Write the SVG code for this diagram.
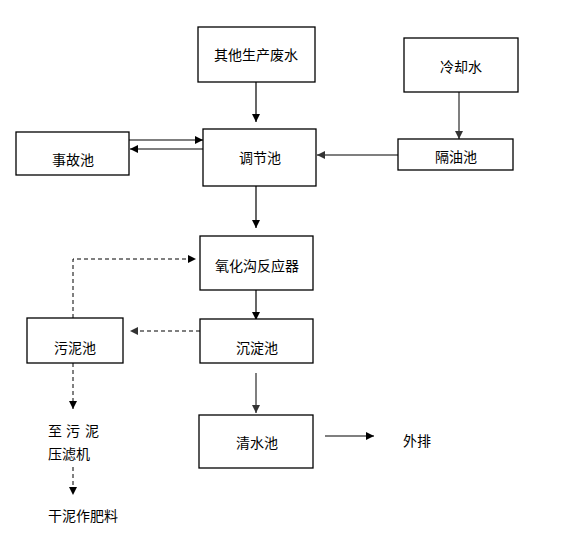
<svg xmlns="http://www.w3.org/2000/svg" width="576" height="539" viewBox="0 0 576 539">
<style>
.box{fill:#fff;stroke:#000;stroke-width:1.3}
.t{font-family:"Noto Sans CJK SC","Liberation Sans",sans-serif;font-size:14px;fill:#000;text-anchor:middle;dominant-baseline:central}
.tl{font-family:"Noto Sans CJK SC","Liberation Sans",sans-serif;font-size:14px;fill:#000;dominant-baseline:central}
.c{fill:none;stroke:#000;stroke-width:1.2}
.g{fill:none;stroke:#555;stroke-width:1.5}
.d{fill:none;stroke:#000;stroke-width:1;stroke-dasharray:4 3}
.dg{fill:none;stroke:#555;stroke-width:1.3;stroke-dasharray:4 3}
</style>
<defs>
<marker id="ah" markerUnits="userSpaceOnUse" markerWidth="9" markerHeight="9" refX="8" refY="4" orient="auto">
<path d="M0,0 L8,4 L0,8 z" fill="#000"/>
</marker>
<marker id="ahg" markerUnits="userSpaceOnUse" markerWidth="9" markerHeight="9" refX="8" refY="4" orient="auto">
<path d="M0,0 L8,4 L0,8 z" fill="#333"/>
</marker>
</defs>
<rect width="576" height="539" fill="#fff"/>
<g id="connectors">
<line class="c" x1="256" y1="82" x2="256" y2="122" marker-end="url(#ah)"/>
<line class="g" x1="459" y1="92" x2="459" y2="139" marker-end="url(#ahg)"/>
<line class="c" x1="129" y1="140" x2="203" y2="140" marker-end="url(#ah)"/>
<line class="c" x1="203" y1="149" x2="130" y2="149" marker-end="url(#ah)"/>
<line class="g" x1="398" y1="155" x2="317" y2="155" marker-end="url(#ahg)"/>
<line class="c" x1="256" y1="186" x2="256" y2="228" marker-end="url(#ah)"/>
<line class="c" x1="256" y1="290" x2="256" y2="320" marker-end="url(#ah)"/>
<polyline class="d" points="73,318 73,259 196,259" marker-end="url(#ah)"/>
<line class="dg" x1="200" y1="331" x2="130" y2="331" marker-end="url(#ahg)"/>
<line class="d" x1="73" y1="363" x2="73" y2="409" marker-end="url(#ah)"/>
<line class="d" x1="73" y1="467" x2="73" y2="495" marker-end="url(#ah)"/>
<line class="g" x1="256" y1="373" x2="256" y2="413" marker-end="url(#ahg)"/>
<line class="c" x1="325" y1="436" x2="374" y2="436" marker-end="url(#ah)"/>
</g>
<g id="n1"><rect class="box" x="198" y="27" width="117" height="55"/><text class="t" x="256" y="54">其他生产废水</text></g>
<g id="n2"><rect class="box" x="404" y="38" width="114" height="54"/><text class="t" x="461" y="66">冷却水</text></g>
<g id="n3"><rect class="box" x="16" y="132" width="113" height="43"/><text class="t" x="73" y="159">事故池</text></g>
<g id="n4"><rect class="box" x="203" y="129" width="113" height="57"/><text class="t" x="260" y="157">调节池</text></g>
<g id="n5"><rect class="box" x="398" y="139" width="115" height="31"/><text class="t" x="456" y="156">隔油池</text></g>
<g id="n6"><rect class="box" x="200" y="236" width="113" height="54"/><text class="t" x="257" y="265">氧化沟反应器</text></g>
<g id="n7"><rect class="box" x="27" y="318" width="96" height="45"/><text class="t" x="75" y="347">污泥池</text></g>
<g id="n8"><rect class="box" x="200" y="319" width="113" height="44"/><text class="t" x="257" y="347">沉淀池</text></g>
<g id="n9"><rect class="box" x="199" y="415" width="114" height="53"/><text class="t" x="257" y="442">清水池</text></g>
<g id="n10"><text class="tl" x="48 66 85" y="430">至污泥</text><text class="tl" x="48" y="453">压滤机</text></g>
<g id="n11"><text class="tl" x="48" y="515">干泥作肥料</text></g>
<g id="n12"><text class="tl" x="403" y="440">外排</text></g>
</svg>
